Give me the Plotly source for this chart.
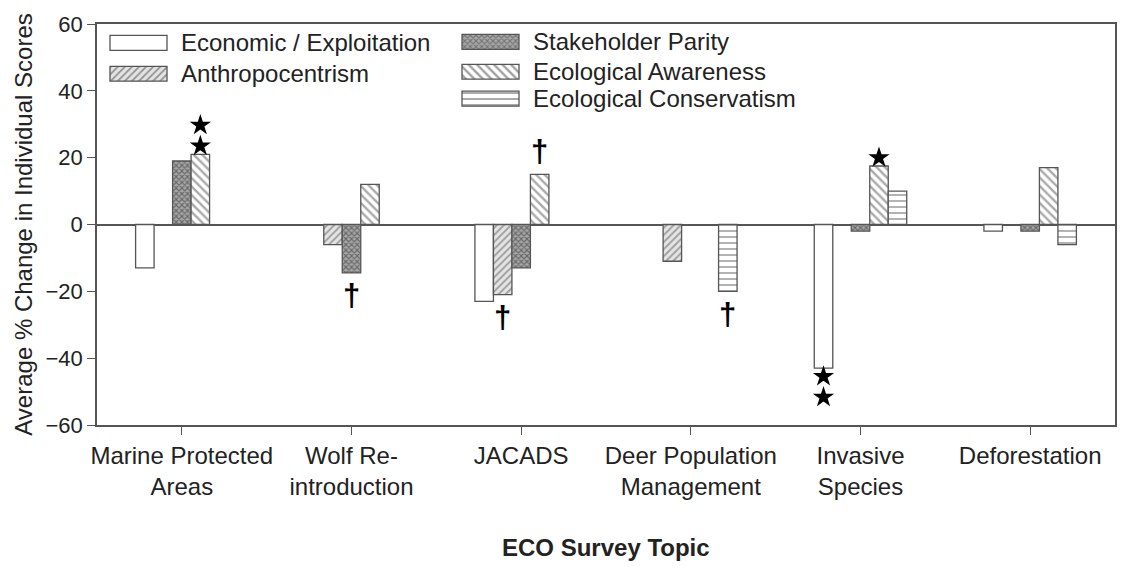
import plotly.graph_objects as go

# ---- data -------------------------------------------------------------
topics = ["Marine Protected<br>Areas", "Wolf Re-<br>introduction", "JACADS",
          "Deer Population<br>Management", "Invasive<br>Species", "Deforestation"]

economic = [-13, None, -23, None, -43, -2]
anthropocentrism = [None, -6, -21, -11, None, None]
stakeholder = [19, -14.5, -13, None, -2, -2]
awareness = [21, 12, 15, None, 17.5, 17]
conservatism = [None, None, None, -20, 10, -6]

series_names = ["Economic / Exploitation", "Anthropocentrism", "Stakeholder Parity",
                "Ecological Awareness", "Ecological Conservatism"]
series_values = [economic, anthropocentrism, stakeholder, awareness, conservatism]

# significance marks: (topic index, series index, kind, how many stacked)
sig_marks = [
    (0, 3, "star", 2),
    (1, 2, "dagger", 1),
    (2, 1, "dagger", 1),
    (2, 3, "dagger", 1),
    (3, 4, "dagger", 1),
    (4, 0, "star", 2),
    (4, 3, "star", 1),
]

y_ticks = [-60, -40, -20, 0, 20, 40, 60]

# ---- styling ----------------------------------------------------------
FONT = "Liberation Sans, Arial, sans-serif"
EDGE = "#555555"
TXT = "#222222"
patterns = [
    dict(shape="", bg="white", fg="white", size=6, sol=0.3),
    dict(shape="/", bg="#e4e4e4", fg="#555555", size=5, sol=0.35),
    dict(shape="x", bg="#a8a8a8", fg="#2a2a2a", size=4, sol=0.5),
    dict(shape="\\", bg="white", fg="#555555", size=6, sol=0.4),
    dict(shape="-", bg="white", fg="#555555", size=6, sol=0.3),
]

BARGAP = 0.455
N_SER = len(series_names)
bar_w = (1 - BARGAP) / N_SER

fig = go.Figure()

for name, vals, p in zip(series_names, series_values, patterns):
    fig.add_trace(go.Bar(
        x=topics, y=vals, name=name, showlegend=False,
        marker=dict(color=p["bg"], line=dict(color=EDGE, width=1.3),
                    pattern=dict(shape=p["shape"], fgcolor=p["fg"], bgcolor=p["bg"],
                                 size=p["size"], solidity=p["sol"])),
        xaxis="x", yaxis="y",
    ))

# ---- legend drawn as swatches on a pixel-like overlay axis ------------
leg_x0 = [110, 110, 462, 462, 462]
leg_y = [41, 72, 40, 70, 97]
sw_len = 57
fig.add_trace(go.Bar(
    orientation="h", y=leg_y, x=[sw_len] * N_SER, base=leg_x0, width=15,
    showlegend=False, hoverinfo="skip", xaxis="x2", yaxis="y2",
    marker=dict(color=[p["bg"] for p in patterns], line=dict(color=EDGE, width=1.3),
                pattern=dict(shape=[p["shape"] for p in patterns],
                             fgcolor=[p["fg"] for p in patterns],
                             bgcolor=[p["bg"] for p in patterns],
                             size=[p["size"] for p in patterns],
                             solidity=[p["sol"] for p in patterns])),
))

annotations = []
for x0, yy, name in zip(leg_x0, leg_y, series_names):
    annotations.append(dict(x=x0 + sw_len + 12, y=yy, xref="x2", yref="y2", text=name,
                            showarrow=False, xanchor="left", yanchor="middle",
                            font=dict(family=FONT, size=24, color=TXT)))

# ---- significance marks -----------------------------------------------
star_x, star_y = [], []
for ti, si, kind, n in sig_marks:
    v = series_values[si][ti]
    xpos = ti + (si - (N_SER - 1) / 2) * bar_w
    sign = 1 if v > 0 else -1
    if kind == "star":
        for k in range(n):
            star_x.append(xpos)
            star_y.append(v + sign * (2.5 + 6.2 * k))
    else:
        annotations.append(dict(x=xpos, y=v, xref="x", yref="y", text="<b>†</b>",
                                showarrow=False, xanchor="center", yanchor="middle",
                                yshift=sign * 23,
                                font=dict(family=FONT, size=31, color="black")))

fig.add_trace(go.Scatter(
    x=star_x, y=star_y, mode="markers", xaxis="x3", yaxis="y",
    showlegend=False, hoverinfo="skip",
    marker=dict(symbol="star", size=16, color="black", line=dict(width=0)),
))

# x-axis title
annotations.append(dict(x=0.5, y=-0.305, xref="paper", yref="paper",
                        text="<b>ECO Survey Topic</b>", showarrow=False,
                        xanchor="center", yanchor="middle",
                        font=dict(family=FONT, size=24, color=TXT)))

fig.update_layout(
    width=1131, height=567,
    margin=dict(l=97, r=16, t=22, b=142),
    paper_bgcolor="white", plot_bgcolor="white",
    barmode="group", bargap=BARGAP, bargroupgap=0,
    hovermode=False,
    annotations=annotations,
    xaxis=dict(showline=True, linecolor=EDGE, linewidth=1.5, mirror=True,
               ticks="outside", ticklen=8, tickcolor=EDGE, tickwidth=1.2,
               showgrid=False, tickfont=dict(family=FONT, size=24, color=TXT),
               range=[-0.5, 5.5]),
    yaxis=dict(range=[-60, 60], tickvals=y_ticks, showline=True, linecolor=EDGE,
               linewidth=1.5, mirror=True, ticks="outside", ticklen=8,
               tickcolor=EDGE, tickwidth=1.2, showgrid=False,
               zeroline=True, zerolinecolor=EDGE, zerolinewidth=1.5,
               tickfont=dict(family=FONT, size=22, color=TXT),
               title=dict(text="Average % Change in Individual Scores",
                          font=dict(family=FONT, size=24, color=TXT), standoff=6)),
    xaxis2=dict(overlaying="x", anchor="y2", range=[97, 1115], visible=False),
    yaxis2=dict(overlaying="y", anchor="x2", range=[425, 22], visible=False),
    xaxis3=dict(overlaying="x", anchor="y", range=[-0.5, 5.5], visible=False),
)

fig.write_html("out.html")
